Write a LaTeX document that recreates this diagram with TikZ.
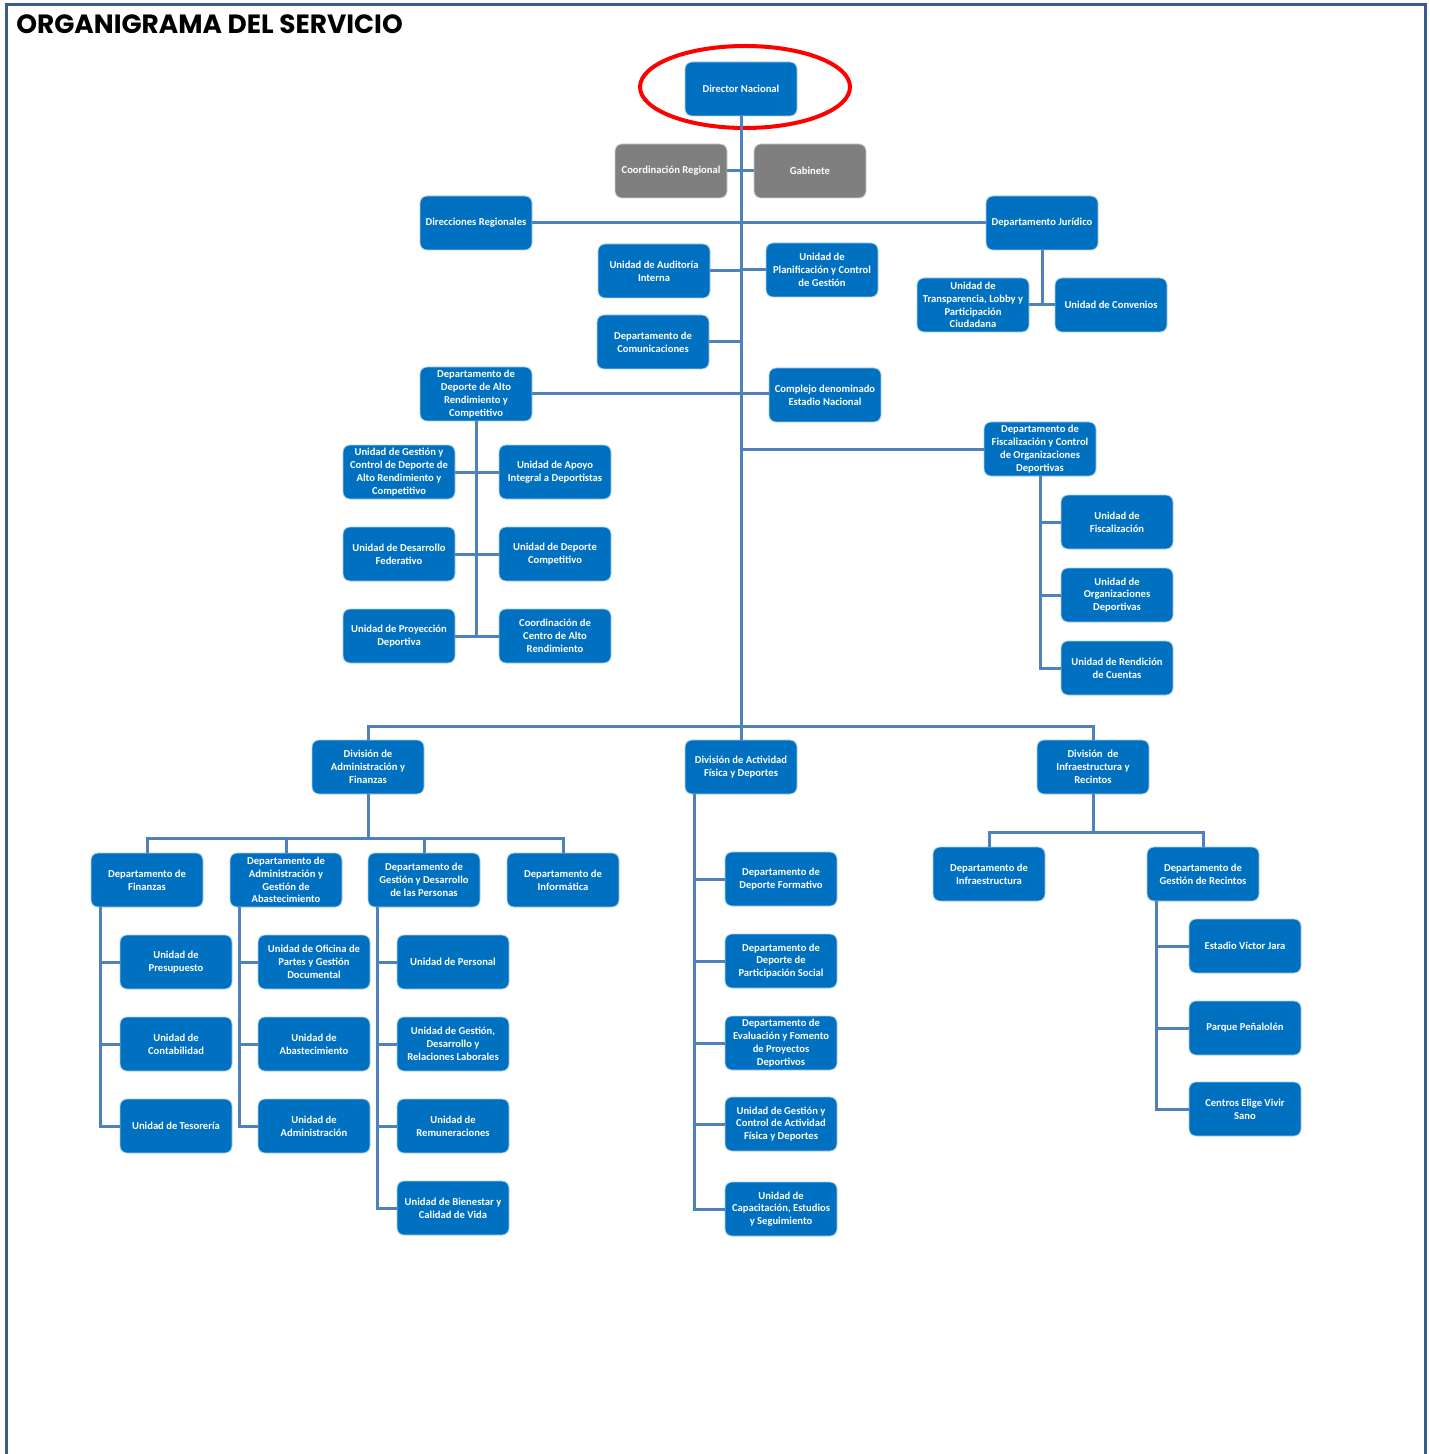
\documentclass[tikz,border=0pt]{standalone}
\usepackage{fontspec}
\usetikzlibrary{shapes.geometric}
\setmainfont{Carlito}
\newfontfamily\titlefont{Poppins}
\definecolor{boxblue}{RGB}{0,112,192}
\definecolor{boxgrey}{RGB}{127,127,127}
\definecolor{linkblue}{RGB}{79,129,189}
\definecolor{framecol}{RGB}{56,93,138}
\definecolor{edgecol}{RGB}{170,205,235}
\tikzset{
  orgbox/.style={rectangle, rounded corners=3.5pt, fill=boxblue, draw=edgecol, line width=0.4pt,
    minimum width=56pt, minimum height=27pt, inner sep=0pt, align=center, text=white,
    font=\fontsize{5.3}{6.4}\selectfont\bfseries},
  greybox/.style={orgbox, fill=boxgrey, draw=gray!40},
  link/.style={draw=linkblue, line width=1.5pt},
}
\begin{document}
\begin{tikzpicture}[x=0.5pt, y=-0.5pt]
\useasboundingbox (0,0) rectangle (1429,1454);
% frame
\draw[framecol, line width=1.5pt] (6,1454) -- (6,5) -- (1425,5) -- (1425,1454);
\node[anchor=base west, inner sep=0pt, font=\titlefont\fontsize{13.2}{14}\selectfont\bfseries] (title) at (16,34) {ORGANIGRAMA DEL SERVICIO};

% top level
\node[orgbox] (dir) at (741,89) {Director Nacional};
\node[greybox] (coord) at (671,171) {Coordinación Regional};
\node[greybox] (gab) at (810,171) {Gabinete};
\node[orgbox] (dirreg) at (476,223) {Direcciones Regionales};
\node[orgbox] (jur) at (1042,223) {Departamento Jurídico};
\node[orgbox] (aud) at (654,271) {Unidad de Auditoría\\Interna};
\node[orgbox] (plan) at (822,270) {Unidad de\\Planificación y Control\\de Gestión};
\node[orgbox] (transp) at (973,305) {Unidad de\\Transparencia, Lobby y\\Participación\\Ciudadana};
\node[orgbox] (conv) at (1111,305) {Unidad de Convenios};
\node[orgbox] (com) at (653,342) {Departamento de\\Comunicaciones};
\node[orgbox] (alto) at (476,394) {Departamento de\\Deporte de Alto\\Rendimiento y\\Competitivo};
\node[orgbox] (compl) at (825,395) {Complejo denominado\\Estadio Nacional};
\node[orgbox] (fisc) at (1040,449) {Departamento de\\Fiscalización y Control\\de Organizaciones\\Deportivas};

% alto rendimiento children
\node[orgbox] (ugc) at (399,472) {Unidad de Gestión y\\Control de Deporte de\\Alto Rendimiento y\\Competitivo};
\node[orgbox] (apoyo) at (555,472) {Unidad de Apoyo\\Integral a Deportistas};
\node[orgbox] (fed) at (399,554) {Unidad de Desarrollo\\Federativo};
\node[orgbox] (comp) at (555,554) {Unidad de Deporte\\Competitivo};
\node[orgbox] (proy) at (399,636) {Unidad de Proyección\\Deportiva};
\node[orgbox] (car) at (555,636) {Coordinación de\\Centro de Alto\\Rendimiento};

% fiscalizacion children
\node[orgbox] (ufisc) at (1117,522) {Unidad de\\Fiscalización};
\node[orgbox] (uorg) at (1117,595) {Unidad de\\Organizaciones\\Deportivas};
\node[orgbox] (urend) at (1117,668) {Unidad de Rendición\\de Cuentas};

% divisions
\node[orgbox] (divadm) at (368,767) {División de\\Administración y\\Finanzas};
\node[orgbox] (divact) at (741,767) {División de Actividad\\Física y Deportes};
\node[orgbox] (divinf) at (1093,767) {División~ de\\Infraestructura y\\Recintos};

% admin departments
\node[orgbox] (dfin) at (147,880) {Departamento de\\Finanzas};
\node[orgbox] (dadm) at (286,880) {Departamento de\\Administración y\\Gestión de\\Abastecimiento};
\node[orgbox] (dper) at (424,880) {Departamento de\\Gestión y Desarrollo\\de las Personas};
\node[orgbox] (dinf) at (563,880) {Departamento de\\Informática};

\node[orgbox] (pres) at (176,962) {Unidad de\\Presupuesto};
\node[orgbox] (cont) at (176,1044) {Unidad de\\Contabilidad};
\node[orgbox] (teso) at (176,1126) {Unidad de Tesorería};

\node[orgbox] (ofi) at (314,962) {Unidad de Oficina de\\Partes y Gestión\\Documental};
\node[orgbox] (abas) at (314,1044) {Unidad de\\Abastecimiento};
\node[orgbox] (uadm) at (314,1126) {Unidad de\\Administración};

\node[orgbox] (pers) at (453,962) {Unidad de Personal};
\node[orgbox] (relab) at (453,1044) {Unidad de Gestión,\\Desarrollo y\\Relaciones Laborales};
\node[orgbox] (remu) at (453,1126) {Unidad de\\Remuneraciones};
\node[orgbox] (bien) at (453,1208) {Unidad de Bienestar y\\Calidad de Vida};

% actividad fisica
\node[orgbox] (form) at (781,879) {Departamento de\\Deporte Formativo};
\node[orgbox] (part) at (781,961) {Departamento de\\Deporte de\\Participación Social};
\node[orgbox] (eval) at (781,1043) {Departamento de\\Evaluación y Fomento\\de Proyectos\\Deportivos};
\node[orgbox] (gcaf) at (781,1124) {Unidad de Gestión y\\Control de Actividad\\Física y Deportes};
\node[orgbox] (capa) at (781,1209) {Unidad de\\Capacitación, Estudios\\y Seguimiento};

% infraestructura
\node[orgbox] (dinfra) at (989,874) {Departamento de\\Infraestructura};
\node[orgbox] (drec) at (1203,874) {Departamento de\\Gestión de Recintos};
\node[orgbox] (vjara) at (1245,946) {Estadio Víctor Jara};
\node[orgbox] (penal) at (1245,1028) {Parque Peñalolén};
\node[orgbox] (evs) at (1245,1109) {Centros Elige Vivir\\Sano};

% red ellipse
\node[draw=red, line width=2pt, ellipse, minimum width=105pt, minimum height=41pt, inner sep=0pt] (mark) at (745,87) {};

% ---------- connectors ----------
\coordinate (bus) at (741,726);
\draw[link] (dir.south) -- (bus);
\draw[link] (coord.east) -- (coord.east -| dir.south);
\draw[link] (gab.west) -- (gab.west -| dir.south);
\draw[link] (dirreg.east) -- (jur.west);
\draw[link] (aud.east) -- (aud.east -| dir.south);
\draw[link] (plan.west) -- (plan.west -| dir.south);
\draw[link] (jur.south) -- (jur.south |- transp.east);
\draw[link] (transp.east) -- (conv.west);
\draw[link] (com.east) -- (com.east -| dir.south);
\draw[link] (alto.east) -- (alto.east -| compl.west);
\draw[link] (fisc.west) -- (fisc.west -| dir.south);

\draw[link] (alto.south) -- (alto.south |- proy.east);
\draw[link] (ugc.east) -- (apoyo.west);
\draw[link] (fed.east) -- (comp.west);
\draw[link] (proy.east) -- (car.west);

\draw[link] (fisc.south) |- (urend.west);
\draw[link] (ufisc.west) -- (ufisc.west -| fisc.south);
\draw[link] (uorg.west) -- (uorg.west -| fisc.south);

\draw[link] (divadm.north) |- (bus) -| (divinf.north);
\draw[link] (divact.north) -- (bus);

\coordinate (admbus) at (368,838);
\draw[link] (divadm.south) -- (admbus);
\draw[link] (dfin.north) |- (admbus) -| (dinf.north);
\draw[link] (dadm.north) -- (dadm.north |- admbus);
\draw[link] (dper.north) -- (dper.north |- admbus);

\coordinate (finv) at ([xshift=5pt]dfin.south west);
\draw[link] (finv) |- (teso.west);
\draw[link] (finv |- pres.west) -- (pres.west);
\draw[link] (finv |- cont.west) -- (cont.west);

\coordinate (admv) at ([xshift=5pt]dadm.south west);
\draw[link] (admv) |- (uadm.west);
\draw[link] (admv |- ofi.west) -- (ofi.west);
\draw[link] (admv |- abas.west) -- (abas.west);

\coordinate (perv) at ([xshift=5pt]dper.south west);
\draw[link] (perv) |- (bien.west);
\draw[link] (perv |- pers.west) -- (pers.west);
\draw[link] (perv |- relab.west) -- (relab.west);
\draw[link] (perv |- remu.west) -- (remu.west);

\coordinate (actv) at ([xshift=5pt]divact.south west);
\draw[link] (actv) |- (capa.west);
\draw[link] (actv |- form.west) -- (form.west);
\draw[link] (actv |- part.west) -- (part.west);
\draw[link] (actv |- eval.west) -- (eval.west);
\draw[link] (actv |- gcaf.west) -- (gcaf.west);

\coordinate (infbus) at (1093,832);
\draw[link] (divinf.south) -- (infbus);
\draw[link] (dinfra.north) |- (infbus) -| (drec.north);

\coordinate (recv) at ([xshift=5pt]drec.south west);
\draw[link] (recv) |- (evs.west);
\draw[link] (recv |- vjara.west) -- (vjara.west);
\draw[link] (recv |- penal.west) -- (penal.west);
\end{tikzpicture}
\end{document}
